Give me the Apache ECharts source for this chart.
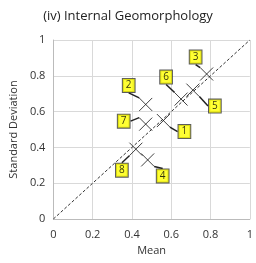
<!DOCTYPE html>
<html>
<head>
<meta charset="utf-8">
<script src="https://cdn.jsdelivr.net/npm/echarts@6/dist/echarts.min.js"></script>
<style>
  html, body { margin: 0; padding: 0; background: #fff; }
  #chart { width: 256px; height: 263px; }
</style>
</head>
<body>
<div id="chart"></div>
<script>
// 数据
var pointNames = ['1', '2', '3', '4', '5', '6', '7', '8'];
var meanValues = [0.56, 0.47, 0.78, 0.48, 0.71, 0.65, 0.47, 0.42];
var sdValues   = [0.55, 0.64, 0.81, 0.33, 0.72, 0.67, 0.53, 0.39];
var axisTicks  = [0, 0.2, 0.4, 0.6, 0.8, 1];

// 标签偏移（像素）
var labelOffsets = [[21, 11], [-17, -19], [-11, -17], [15, 16], [22, 16], [-15, -22], [-22, -3], [-14, 21]];

var fontName = '"Open Sans", "Noto Sans", sans-serif';

var points = pointNames.map(function (n, i) {
    return { name: n, value: [meanValues[i], sdValues[i]] };
});

var myChart = echarts.init(document.getElementById('chart'));

var option = {
    animation: false,
    title: {
        text: '(iv) Internal Geomorphology',
        left: 'center',
        top: 5,
        textStyle: { fontFamily: fontName, fontSize: 13, fontWeight: 'normal', color: '#222' }
    },
    grid: { left: 49, right: 4, top: 40, bottom: 44 },
    xAxis: {
        type: 'value',
        min: axisTicks[0],
        max: axisTicks[axisTicks.length - 1],
        interval: 0.2,
        name: 'Mean',
        nameLocation: 'middle',
        nameGap: 24,
        nameTextStyle: { fontFamily: fontName, fontSize: 11, color: '#333' },
        axisLine: { lineStyle: { color: '#bbb' } },
        axisTick: { show: false },
        axisLabel: { fontFamily: fontName, fontSize: 11, color: '#333', margin: 10 },
        splitLine: { lineStyle: { color: '#d9d9d9' } }
    },
    yAxis: {
        type: 'value',
        min: axisTicks[0],
        max: axisTicks[axisTicks.length - 1],
        interval: 0.2,
        name: 'Standard Deviation',
        nameLocation: 'middle',
        nameGap: 34,
        nameTextStyle: { fontFamily: fontName, fontSize: 11, color: '#333' },
        axisLine: { show: true, lineStyle: { color: '#bbb' } },
        axisTick: { show: false },
        axisLabel: { fontFamily: fontName, fontSize: 11, color: '#333', margin: 8 },
        splitLine: { lineStyle: { color: '#d9d9d9' } }
    },
    series: [
        {
            type: 'line',
            data: [[0, 0], [1, 1]],
            symbol: 'none',
            silent: true,
            lineStyle: { color: '#333', width: 1, type: [3, 2] },
            z: 1
        },
        {
            type: 'scatter',
            data: points,
            symbol: 'path://M0,0L10,10M10,0L0,10',
            symbolSize: 13,
            itemStyle: { color: 'rgba(0,0,0,0)', borderColor: '#111', borderWidth: 1 },
            label: {
                show: true,
                position: 'inside',
                formatter: '{b}',
                fontFamily: fontName,
                fontSize: 10,
                color: '#000',
                backgroundColor: '#ffff00',
                borderColor: '#333',
                borderWidth: 1,
                padding: [2, 3, 1, 3]
            },
            labelLine: { show: true, lineStyle: { color: '#222', width: 1.5 } },
            labelLayout: function (params) {
                var o = labelOffsets[params.dataIndex];
                return { dx: o[0], dy: o[1] };
            },
            z: 3
        }
    ]
};

myChart.setOption(option);
</script>
</body>
</html>
